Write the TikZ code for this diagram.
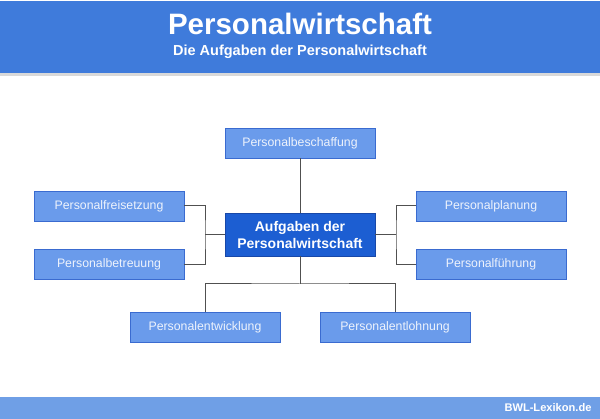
\documentclass[tikz,border=0pt]{standalone}
\usepackage{fontspec}
\setmainfont{Liberation Sans}
\usetikzlibrary{positioning}

\definecolor{banner}{HTML}{3F7BDB}
\definecolor{footbar}{HTML}{6F9FE6}
\definecolor{taskfill}{HTML}{6A9BEB}
\definecolor{taskline}{HTML}{3A6BD0}
\definecolor{corefill}{HTML}{1C5ED2}
\definecolor{coreline}{HTML}{1848A8}
\definecolor{tasktext}{HTML}{EEF3FC}
\definecolor{wire}{HTML}{505050}

\begin{document}
\begin{tikzpicture}[x=1pt,y=-1pt,
		task/.style={rectangle,draw=taskline,fill=taskfill,line width=0.8pt,text=tasktext,
			minimum width=150pt,minimum height=30pt,inner sep=0pt,font=\fontsize{12.3}{14}\selectfont},
		core/.style={rectangle,draw=coreline,fill=corefill,line width=0.8pt,text=white,align=center,
			minimum width=150pt,minimum height=43pt,inner sep=0pt,font=\bfseries\fontsize{14}{17}\selectfont},
		wire/.style={draw=wire,line width=1pt}]

	\useasboundingbox (0,0) rectangle (600,419);
	% header and footer
	\fill[gray!30] (0,3) rectangle (600,76);
	\fill[banner] (0,1) rectangle (600,73);
	\node[text=white,font=\bfseries\fontsize{29.5}{32}\selectfont] (title) at (300,24) {Personalwirtschaft};
	\node[text=white,font=\bfseries\fontsize{14.5}{16}\selectfont] (subtitle) at (300,52) {Die Aufgaben der Personalwirtschaft};
	\fill[footbar] (0,397) rectangle (600,419);
	\node[text=white,font=\bfseries\fontsize{11.1}{13}\selectfont,anchor=east] (brand) at (595,408) {BWL-Lexikon.de};

	% the tasks
	\node[core] (center) at (300,234.5) {Aufgaben der\\Personalwirtschaft};
	\node[task] (beschaffung) at (300,143) {Personalbeschaffung};
	\node[task] (freisetzung) at (109,206) {Personalfreisetzung};
	\node[task] (betreuung) [below=28pt of freisetzung] {Personalbetreuung};
	\node[task] (planung) at (491,206) {Personalplanung};
	\node[task] (fuehrung) [below=28pt of planung] {Personalführung};
	\node[task] (entwicklung) at (205,327) {Personalentwicklung};
	\node[task] (entlohnung) at (395,327) {Personalentlohnung};

	\coordinate (lj) at (205,234.5);
	\coordinate (rj) at (396,234.5);
	\coordinate (bj) at (300,284);

	\draw[wire] (beschaffung) -- (center);
	\draw[wire] (center.west) -- (lj);
	\draw[wire] (freisetzung.east) -| (lj) |- (betreuung.east);
	\draw[wire] (center.east) -- (rj);
	\draw[wire] (planung.west) -| (rj) |- (fuehrung.west);
	\draw[wire] (center.south) -- (bj);
	\draw[wire] (entwicklung.north) |- (bj) -| (entlohnung.north);
\end{tikzpicture}
\end{document}
